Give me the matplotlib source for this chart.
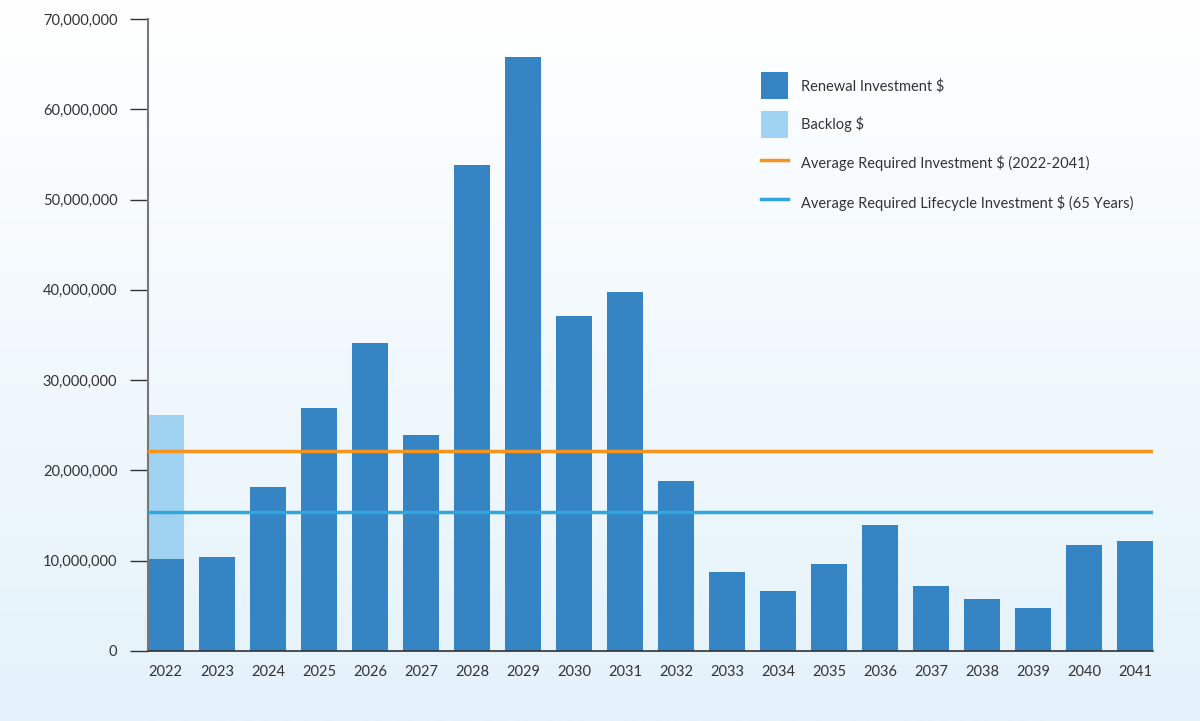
import numpy as np
import matplotlib.pyplot as plt
from matplotlib.patches import Patch
from matplotlib.lines import Line2D
from matplotlib.ticker import FuncFormatter

years = [str(y) for y in range(2022, 2042)]
renewal = [10.2, 10.4, 18.2, 26.9, 34.1, 23.9, 53.8, 65.8, 37.1, 39.8,
           18.8, 8.75, 6.65, 9.65, 13.95, 7.2, 5.75, 4.75, 11.75, 12.2]
backlog = [15.95] + [0] * 19
renewal = [v * 1e6 for v in renewal]
backlog = [v * 1e6 for v in backlog]
avg_required = 22.15e6
avg_lifecycle = 15.4e6

plt.rcParams['font.family'] = ['Lato', 'DejaVu Sans']
text_col = '#333333'

fig = plt.figure(figsize=(12, 7.21), dpi=100)

# gradient background
bg = fig.add_axes([0, 0, 1, 1], zorder=-10)
grad = np.linspace(0, 1, 256).reshape(-1, 1)
top = np.array([1.0, 1.0, 1.0])
bot = np.array([0xE4, 0xF2, 0xFB]) / 255
img = top + (bot - top) * grad[:, :, None]
bg.imshow(img, aspect='auto', extent=[0, 1, 0, 1])
bg.axis('off')

ax = fig.add_axes([0.1233, 0.0971, 0.8377, 0.8765])
ax.set_facecolor('none')

x = np.arange(len(years))
ax.bar(x, renewal, width=0.7, color='#3584C4', zorder=2)
ax.bar(x, backlog, width=0.7, bottom=renewal, color='#A0D2F2', zorder=2)
ax.axhline(avg_required, color='#F7941D', lw=2.5, zorder=3)
ax.axhline(avg_lifecycle, color='#2FA6DE', lw=2.5, zorder=3)

ax.set_xlim(-0.35, len(years) - 0.65)
ax.set_ylim(0, 70e6)
ax.set_yticks(np.arange(0, 70e6 + 1, 10e6))
ax.yaxis.set_major_formatter(FuncFormatter(lambda v, p: f'{int(v):,}'))
ax.set_xticks(x)
ax.set_xticklabels(years)

for s in ['top', 'right']:
    ax.spines[s].set_visible(False)
ax.spines['left'].set_color('#777777')
ax.spines['left'].set_linewidth(1.5)
ax.spines['bottom'].set_color('#333333')
ax.spines['bottom'].set_linewidth(1.2)
ax.tick_params(axis='y', length=13, width=1, color='#333333', labelsize=10.5,
               labelcolor=text_col, pad=9)
ax.tick_params(axis='x', length=0, labelsize=10.5, labelcolor=text_col, pad=10)

handles = [
    Patch(facecolor='#3584C4', edgecolor='none'),
    Patch(facecolor='#A0D2F2', edgecolor='none'),
    Line2D([0], [0], color='#F7941D', lw=2.5),
    Line2D([0], [0], color='#2FA6DE', lw=2.5),
]
labels = ['Renewal Investment $', 'Backlog $',
          'Average Required Investment $ (2022-2041)',
          'Average Required Lifecycle Investment $ (65 Years)']
leg = fig.legend(handles, labels, loc='upper left', bbox_to_anchor=(0.623, 0.918),
                 frameon=False, fontsize=10.5, handlelength=1.85, handleheight=2.45,
                 labelspacing=0.85, handletextpad=0.9, labelcolor=text_col)

fig.savefig('out.png', dpi=100)
